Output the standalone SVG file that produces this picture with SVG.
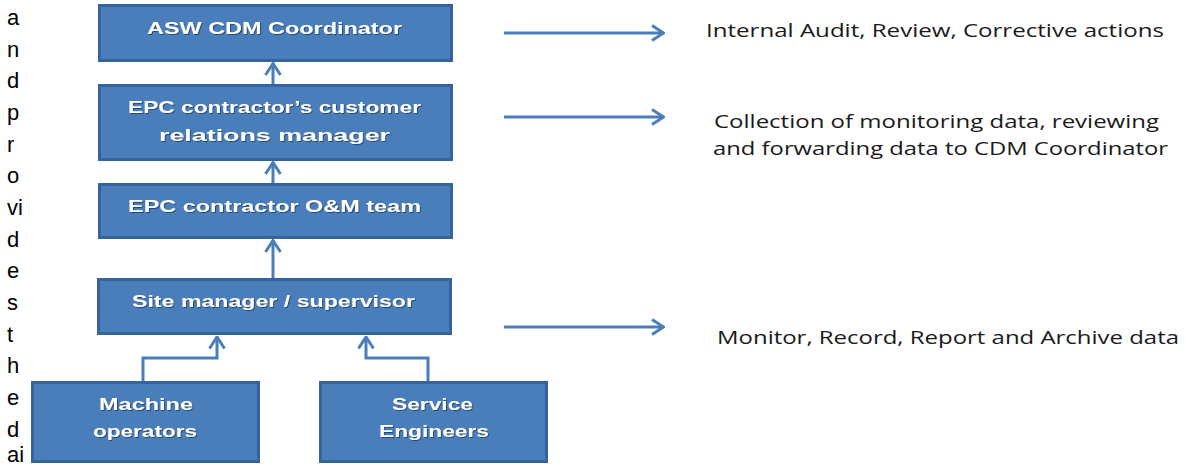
<svg xmlns="http://www.w3.org/2000/svg" width="1194" height="468" viewBox="0 0 1194 468">
<style>
.box{fill:#4A7EBB;stroke:#35649C;stroke-width:3}
.bt{font-family:"Liberation Sans",Arial,sans-serif;font-weight:bold;font-size:17px;fill:#FFFFFF;text-anchor:middle}
.rt{font-family:"Open Sans","Noto Sans",sans-serif;font-size:18px;fill:#1a1a1a}
.lt{font-family:"Liberation Sans",Arial,sans-serif;font-size:22px;fill:#000000}
.con{fill:none;stroke:#4A7EBB;stroke-width:3}
</style>
<defs>
<marker id="ah" viewBox="0 0 14 18" refX="13" refY="9" markerWidth="14" markerHeight="18" markerUnits="userSpaceOnUse" orient="auto">
<path d="M1,1.5 L12.5,9 L1,16.5" fill="none" stroke="#4A7EBB" stroke-width="3"/>
</marker>
<filter id="ts" x="-5%" y="-20%" width="110%" height="140%">
<feDropShadow dx="1" dy="1" stdDeviation="0.6" flood-color="#1d3a5e" flood-opacity="0.8"/>
</filter>
</defs>
<rect width="1194" height="468" fill="#FFFFFF"/>
<g id="left-text">
<text class="lt" x="7" y="25">a</text>
<text class="lt" x="7" y="56.7">n</text>
<text class="lt" x="7" y="88.3">d</text>
<text class="lt" x="7" y="120">p</text>
<text class="lt" x="7" y="151.7">r</text>
<text class="lt" x="7" y="183.3">o</text>
<text class="lt" x="7" y="215">vi</text>
<text class="lt" x="7" y="246.7">d</text>
<text class="lt" x="7" y="278.3">e</text>
<text class="lt" x="7" y="310">s</text>
<text class="lt" x="7" y="341.7">t</text>
<text class="lt" x="7" y="373.3">h</text>
<text class="lt" x="7" y="405">e</text>
<text class="lt" x="7" y="436.7">d</text>
<text class="lt" x="7" y="462">ai</text>
</g>
<g id="connectors">
<line class="con" x1="273" y1="84" x2="273" y2="63" marker-end="url(#ah)"/>
<line class="con" x1="273" y1="183" x2="273" y2="162" marker-end="url(#ah)"/>
<line class="con" x1="273" y1="278" x2="273" y2="240" marker-end="url(#ah)"/>
<path class="con" d="M143,381 V358 H217 V336.5" marker-end="url(#ah)"/>
<path class="con" d="M428,381 V358 H366 V336.5" marker-end="url(#ah)"/>
<line class="con" x1="504" y1="33" x2="664" y2="33" marker-end="url(#ah)"/>
<line class="con" x1="504" y1="117" x2="664" y2="117" marker-end="url(#ah)"/>
<line class="con" x1="504" y1="327" x2="664" y2="327" marker-end="url(#ah)"/>
</g>
<g id="asw">
<rect class="box" x="99.5" y="5.5" width="352" height="55"/>
<text class="bt" x="274.5" y="34" textLength="255" lengthAdjust="spacingAndGlyphs" filter="url(#ts)">ASW CDM Coordinator</text>
</g>
<g id="epc-crm">
<rect class="box" x="99.5" y="85.5" width="352" height="74"/>
<text class="bt" x="274.5" y="113" textLength="293" lengthAdjust="spacingAndGlyphs" filter="url(#ts)">EPC contractor’s customer</text>
<text class="bt" x="274.5" y="141" textLength="231" lengthAdjust="spacingAndGlyphs" filter="url(#ts)">relations manager</text>
</g>
<g id="epc-om">
<rect class="box" x="99.5" y="184.5" width="352" height="53"/>
<text class="bt" x="274.5" y="212" textLength="293" lengthAdjust="spacingAndGlyphs" filter="url(#ts)">EPC contractor O&amp;M team</text>
</g>
<g id="site-manager">
<rect class="box" x="98.5" y="279.5" width="352" height="54"/>
<text class="bt" x="273.5" y="307" textLength="283" lengthAdjust="spacingAndGlyphs" filter="url(#ts)">Site manager / supervisor</text>
</g>
<g id="machine-operators">
<rect class="box" x="32.5" y="382.5" width="226" height="79"/>
<text class="bt" x="146" y="410" textLength="94" lengthAdjust="spacingAndGlyphs" filter="url(#ts)">Machine</text>
<text class="bt" x="145" y="437" textLength="104" lengthAdjust="spacingAndGlyphs" filter="url(#ts)">operators</text>
</g>
<g id="service-engineers">
<rect class="box" x="320.5" y="382.5" width="226" height="79"/>
<text class="bt" x="432.5" y="410" textLength="81" lengthAdjust="spacingAndGlyphs" filter="url(#ts)">Service</text>
<text class="bt" x="434" y="437" textLength="110" lengthAdjust="spacingAndGlyphs" filter="url(#ts)">Engineers</text>
</g>
<g id="labels">
<text class="rt" x="706" y="37" textLength="458" lengthAdjust="spacingAndGlyphs">Internal Audit, Review, Corrective actions</text>
<text class="rt" x="714" y="128" textLength="445" lengthAdjust="spacingAndGlyphs">Collection of monitoring data, reviewing</text>
<text class="rt" x="713" y="155" textLength="455" lengthAdjust="spacingAndGlyphs">and forwarding data to CDM Coordinator</text>
<text class="rt" x="717" y="344" textLength="462" lengthAdjust="spacingAndGlyphs">Monitor, Record, Report and Archive data</text>
</g>
</svg>
